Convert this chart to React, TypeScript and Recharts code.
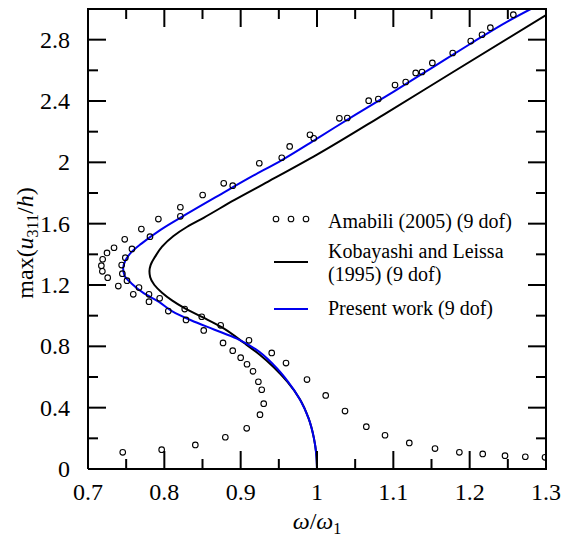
import { ComposedChart, Line, Scatter, XAxis, YAxis } from 'recharts';

const FONT = '"Liberation Serif", "Times New Roman", "DejaVu Serif", serif';
const INK = '#000';

const WIDTH = 563;
const HEIGHT = 540;
const MARGIN = { top: 9, right: 17, bottom: 0, left: 0 };
const X_AXIS_H = 71;
const Y_AXIS_W = 88;
const PLOT_LEFT = MARGIN.left + Y_AXIS_W;
const PLOT_TOP = MARGIN.top;
const PLOT_RIGHT = WIDTH - MARGIN.right;
const PLOT_BOTTOM = HEIGHT - MARGIN.bottom - X_AXIS_H;

const X_DOMAIN: [number, number] = [0.7, 1.3];
const Y_DOMAIN: [number, number] = [0, 3];

// axis ticks
const xMajorTicks = [0.7, 0.8, 0.9, 1, 1.1, 1.2, 1.3];
const xMinorTicks = [0.75, 0.85, 0.95, 1.05, 1.15, 1.25];
const yMajorTicks = [0, 0.4, 0.8, 1.2, 1.6, 2, 2.4, 2.8];
const yMinorTicks = [0.2, 0.6, 1.0, 1.4, 1.8, 2.2, 2.6];

// Amabili (2005) (9 dof) - open circles [omega/omega1, max(u311/h)]
const amabili: [number, number][] = [
  [0.7455, 0.109], [0.7965, 0.126], [0.8406, 0.157], [0.8799, 0.207], [0.9079, 0.265],
  [0.9253, 0.354], [0.9302, 0.426], [0.9276, 0.517], [0.9232, 0.569], [0.9162, 0.637],
  [0.9083, 0.683], [0.9, 0.726], [0.8896, 0.772], [0.8769, 0.822], [0.8516, 0.904],
  [0.8284, 0.972], [0.8052, 1.03], [0.7799, 1.091], [0.7593, 1.139], [0.7397, 1.193],
  [0.7258, 1.248], [0.7188, 1.289], [0.7175, 1.326], [0.7192, 1.368], [0.7249, 1.409],
  [0.7341, 1.443], [0.7481, 1.498], [0.7699, 1.565], [0.7922, 1.63], [0.821, 1.707],
  [0.8502, 1.787], [0.8778, 1.863], [0.9244, 1.994], [0.9642, 2.104], [0.9908, 2.18],
  [1.0293, 2.287], [1.0677, 2.402], [1.1022, 2.504], [1.1293, 2.583], [1.1511, 2.648],
  [1.1778, 2.713], [1.2014, 2.791], [1.2162, 2.832], [1.2271, 2.878], [1.2572, 2.963],
  [0.7441, 1.33], [0.745, 1.274], [0.7489, 1.378], [0.7511, 1.228], [0.7576, 1.435],
  [0.7668, 1.183], [0.7799, 1.139], [0.7812, 1.515], [0.7939, 1.113], [0.821, 1.648],
  [0.8267, 1.043], [0.849, 0.993], [0.8738, 0.937], [0.8896, 1.848], [0.9109, 0.839],
  [0.9407, 0.757], [0.9538, 2.03], [0.9594, 0.691], [0.9869, 0.583], [0.9957, 2.157],
  [1.0114, 0.48], [1.0367, 0.378], [1.0397, 2.289], [1.0646, 0.276], [1.0803, 2.413],
  [1.0891, 0.22], [1.1162, 2.524], [1.1209, 0.17], [1.1376, 2.589], [1.1546, 0.133],
  [1.1865, 0.109], [1.2171, 0.098], [1.2463, 0.087], [1.2729, 0.08], [1.2987, 0.076],
];

// Kobayashi and Leissa (1995) (9 dof) - black backbone curve, bottom to top
const kobayashi: [number, number][] = [
  [1.0, 0], [0.999, 0.1], [0.996, 0.2], [0.989, 0.33], [0.977, 0.46], [0.961, 0.57],
  [0.943, 0.665], [0.925, 0.745], [0.905, 0.82], [0.875, 0.925], [0.85, 0.99],
  [0.827, 1.048], [0.81, 1.1], [0.797, 1.15], [0.787, 1.2], [0.7815, 1.25], [0.7805, 1.29],
  [0.782, 1.33], [0.788, 1.385], [0.797, 1.45], [0.812, 1.52], [0.83, 1.58], [0.852, 1.64],
  [0.892, 1.755], [0.936, 1.874], [1.0, 2.05], [1.087, 2.31], [1.174, 2.576], [1.3, 2.96],
];

// Present work (9 dof) - blue backbone curve, bottom to top
const present: [number, number][] = [
  [1.0, 0], [0.999, 0.1], [0.996, 0.2], [0.989, 0.33], [0.978, 0.45], [0.962, 0.57],
  [0.943, 0.68], [0.92, 0.78], [0.895, 0.85], [0.865, 0.91], [0.835, 0.97], [0.81, 1.03],
  [0.793, 1.09], [0.772, 1.15], [0.757, 1.21], [0.748, 1.26], [0.746, 1.31], [0.749, 1.36],
  [0.756, 1.41], [0.77, 1.47], [0.795, 1.56], [0.83, 1.665], [0.875, 1.795], [0.91, 1.895],
  [0.954, 2.015], [1.0, 2.155], [1.05, 2.31], [1.1, 2.46], [1.15, 2.615], [1.2, 2.77],
  [1.25, 2.92], [1.28, 3.0],
];

const toRows = (pts: [number, number][]) => pts.map(([x, y]) => ({ x, y }));

const fmt = (v: number) => (Number.isInteger(v) ? String(v) : v.toFixed(1));

const labelStyle = { fontFamily: FONT, fontSize: 24 };

// bottom axis tick: inward mark at the bottom and mirrored one at the top
const XTick = ({ x, y, payload }: any) => {
  const v = payload.value;
  const major = xMajorTicks.includes(v);
  const len = major ? 18 : 10;
  return (
    <g>
      <line x1={x} y1={y} x2={x} y2={y - len} stroke={INK} strokeWidth={2} />
      <line x1={x} y1={PLOT_TOP} x2={x} y2={PLOT_TOP + len} stroke={INK} strokeWidth={2} />
      {major && (
        <text x={x} y={y + 31} textAnchor="middle" style={labelStyle} fill="#000">
          {fmt(v)}
        </text>
      )}
    </g>
  );
};

// left axis tick: inward mark at the left and mirrored one at the right
const YTick = ({ x, y, payload }: any) => {
  const v = payload.value;
  const major = yMajorTicks.includes(v);
  const len = major ? 18 : 10;
  return (
    <g>
      <line x1={x} y1={y} x2={x + len} y2={y} stroke={INK} strokeWidth={2} />
      <line x1={PLOT_RIGHT} y1={y} x2={PLOT_RIGHT - len} y2={y} stroke={INK} strokeWidth={2} />
      {major && (
        <text x={x - 18} y={y + 8} textAnchor="end" style={labelStyle} fill="#000">
          {fmt(v)}
        </text>
      )}
    </g>
  );
};

const OpenCircle = (props: any) => (
  <circle cx={props.cx} cy={props.cy} r={2.8} fill="none" stroke="#000" strokeWidth={1.1} />
);

export default function App() {
  const xTicks = [...xMajorTicks, ...xMinorTicks].sort((a, b) => a - b);
  const yTicks = [...yMajorTicks, ...yMinorTicks].sort((a, b) => a - b);
  const axisLine = { stroke: INK, strokeWidth: 2 };

  return (
    <div style={{ position: 'absolute', left: 0, top: 0, width: WIDTH, height: HEIGHT, background: '#fff' }}>
      <ComposedChart width={WIDTH} height={HEIGHT} margin={MARGIN}>
        <XAxis
          type="number"
          dataKey="x"
          domain={X_DOMAIN}
          ticks={xTicks}
          interval={0}
          allowDataOverflow
          height={X_AXIS_H}
          axisLine={axisLine}
          tickLine={false}
          tickSize={0}
          tickMargin={0}
          tick={(p: any) => <XTick {...p} />}
        />
        <YAxis
          type="number"
          dataKey="y"
          domain={Y_DOMAIN}
          ticks={yTicks}
          interval={0}
          allowDataOverflow
          width={Y_AXIS_W}
          axisLine={axisLine}
          tickLine={false}
          tickSize={0}
          tickMargin={0}
          tick={(p: any) => <YTick {...p} />}
        />
        <Scatter data={toRows(amabili)} shape={OpenCircle} isAnimationActive={false} />
        <Line
          data={toRows(kobayashi)}
          dataKey="y"
          type="monotoneY"
          stroke="#000"
          strokeWidth={2}
          dot={false}
          activeDot={false}
          isAnimationActive={false}
        />
        <Line
          data={toRows(present)}
          dataKey="y"
          type="monotoneY"
          stroke="#0000ee"
          strokeWidth={2}
          dot={false}
          activeDot={false}
          isAnimationActive={false}
        />
      </ComposedChart>

      {/* top and right frame lines, legend and axis titles */}
      <svg
        width={WIDTH}
        height={HEIGHT}
        style={{ position: 'absolute', left: 0, top: 0, pointerEvents: 'none', fontFamily: FONT }}
      >
        <path
          d={`M${PLOT_LEFT - 1},${PLOT_TOP}H${PLOT_RIGHT}V${PLOT_BOTTOM + 1}`}
          stroke={INK}
          strokeWidth={2}
          fill="none"
        />

        <circle cx={276} cy={219} r={2.8} fill="none" stroke="#000" strokeWidth={1.1} />
        <circle cx={291} cy={219} r={2.8} fill="none" stroke="#000" strokeWidth={1.1} />
        <circle cx={306} cy={219} r={2.8} fill="none" stroke="#000" strokeWidth={1.1} />
        <text x={328} y={228} fontSize={20}>Amabili (2005) (9 dof)</text>

        <line x1={274} y1={262} x2={308} y2={262} stroke="#000" strokeWidth={2} />
        <text x={328} y={258} fontSize={20}>Kobayashi and Leissa</text>
        <text x={328} y={281} fontSize={20}>(1995) (9 dof)</text>

        <line x1={274} y1={309} x2={308} y2={309} stroke="#0000ee" strokeWidth={2} />
        <text x={328} y={315} fontSize={20}>Present work (9 dof)</text>

        <text x={317} y={529} fontSize={24} textAnchor="middle">
          <tspan fontStyle="italic">ω</tspan>/<tspan fontStyle="italic">ω</tspan>
          <tspan fontSize={16} dy={5}>1</tspan>
        </text>

        <text transform="translate(33,243) rotate(-90)" fontSize={24} textAnchor="middle">
          max(<tspan fontStyle="italic">u</tspan>
          <tspan fontSize={16} dy={5}>311</tspan>
          <tspan dy={-5}>/</tspan>
          <tspan fontStyle="italic">h</tspan>)
        </text>
      </svg>
    </div>
  );
}
